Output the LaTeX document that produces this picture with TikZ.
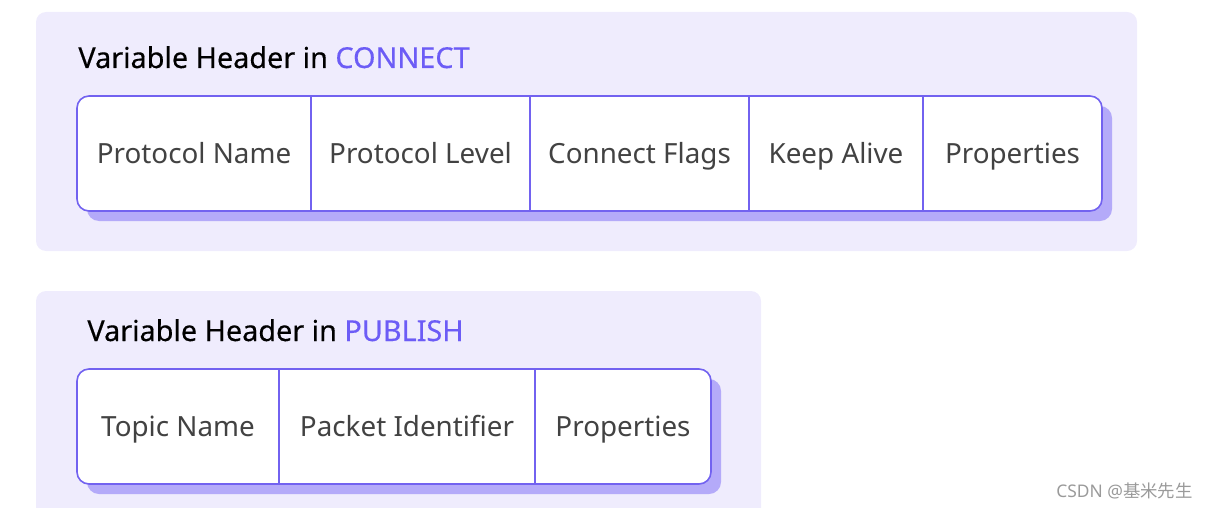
\documentclass[tikz,border=0pt]{standalone}
\usepackage{fontspec}
\setmainfont{Noto Sans}
\newfontfamily\titlefont{Noto Sans}[FakeBold=0.35]
\newfontfamily\cjkfont{Noto Sans CJK SC}
\usetikzlibrary{positioning}

\definecolor{panelbg}{HTML}{EFECFD}
\definecolor{cellline}{HTML}{7262F0}
\definecolor{cellshadow}{HTML}{B4AAF9}
\definecolor{keyword}{HTML}{6C5CF6}
\definecolor{celltext}{HTML}{424242}
\definecolor{marktext}{HTML}{9A9A9A}

\pgfdeclarelayer{panel}
\pgfdeclarelayer{background}
\pgfsetlayers{panel,background,main}

\tikzset{
	field/.style={minimum height=57.5pt, inner sep=0pt, outer sep=0pt,
		text height=10pt, text depth=0pt, text=celltext,
		font=\fontsize{13.9}{16}\selectfont},
	headtitle/.style={anchor=base west, inner sep=0pt, text=black,
		font=\titlefont\fontsize{14.4}{17}\selectfont},
	rowframe/.style={draw=cellline, line width=0.8pt, rounded corners=6pt},
	rowshadow/.style={fill=cellshadow, rounded corners=6pt}
}

\begin{document}
\begin{tikzpicture}[x=0.5pt,y=-0.5pt]
	\clip (0,0) rectangle (1209,508);

	% panels
	\begin{pgfonlayer}{panel}
		\fill[panelbg, rounded corners=5pt] (36,12) rectangle (1137,251);
		\fill[panelbg, rounded corners=5pt] (36,291) rectangle (761,540);
	\end{pgfonlayer}

	% CONNECT
	\node [headtitle] (conntitle) at (78,68)
		{Variable Header in \textcolor{keyword}{CONNECT}};

	\node [field,
		minimum width=117pt,
		anchor=north west
		] (pname) at (77,96) {Protocol Name};
	\node [field, minimum width=109.5pt, right=0pt of pname] (plevel) {Protocol Level};
	\node [field, minimum width=109.5pt, right=0pt of plevel] (cflags) {Connect Flags};
	\node [field, minimum width=87pt, right=0pt of cflags] (kalive) {Keep Alive};
	\node [field, minimum width=89.5pt, right=0pt of kalive] (cprops) {Properties};

	\begin{pgfonlayer}{background}
		\fill[rowshadow] ([shift={(10,10)}]pname.north west) rectangle ([shift={(10,10)}]cprops.south east);
		\fill[white, rounded corners=6pt] (pname.north west) rectangle (cprops.south east);
	\end{pgfonlayer}
	\draw[rowframe] (pname.north west) rectangle (cprops.south east);
	\foreach \cell in {pname,plevel,cflags,kalive}
		\draw[cellline, line width=0.8pt] (\cell.north east) -- (\cell.south east);

	% PUBLISH
	\node [headtitle] (pubtitle) at (87,341)
		{Variable Header in \textcolor{keyword}{PUBLISH}};

	\node [field,
		minimum width=101pt,
		anchor=north west
		] (tname) at (77,369) {Topic Name};
	\node [field, minimum width=128pt, right=0pt of tname] (packid) {Packet Identifier};
	\node [field, minimum width=88pt, right=0pt of packid] (pprops) {Properties};

	\begin{pgfonlayer}{background}
		\fill[rowshadow] ([shift={(10,10)}]tname.north west) rectangle ([shift={(10,10)}]pprops.south east);
		\fill[white, rounded corners=6pt] (tname.north west) rectangle (pprops.south east);
	\end{pgfonlayer}
	\draw[rowframe] (tname.north west) rectangle (pprops.south east);
	\foreach \cell in {tname,packid}
		\draw[cellline, line width=0.8pt] (\cell.north east) -- (\cell.south east);

	% watermark
	\node [anchor=base east, inner sep=0pt, text=marktext,
		font=\fontsize{8.7}{10}\selectfont] (mark) at (1193,497)
		{CSDN @{\cjkfont 基米先生}};
\end{tikzpicture}
\end{document}
